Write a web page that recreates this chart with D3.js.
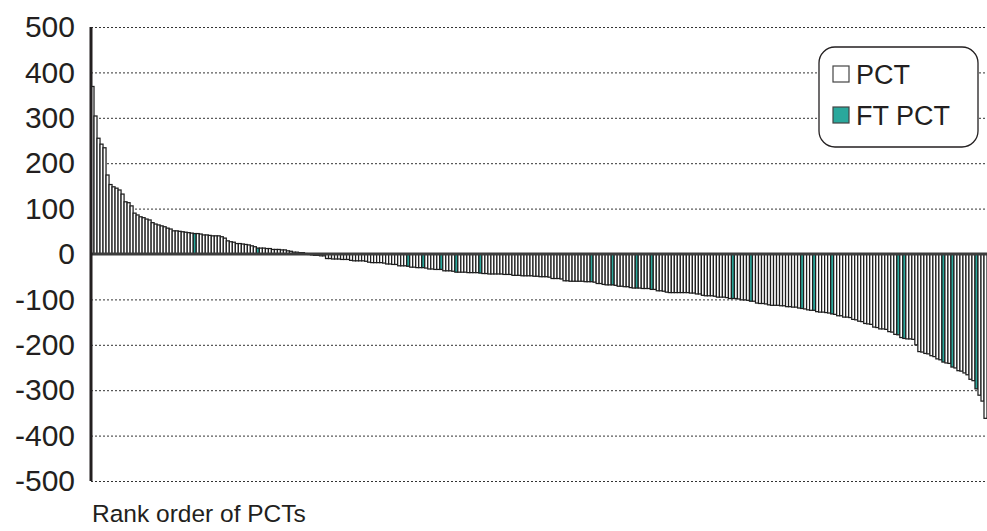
<!DOCTYPE html>
<html>
<head>
<meta charset="utf-8">
<script src="https://cdn.jsdelivr.net/npm/d3@7"></script>
<style>
  body { margin: 0; background: #fff; }
  svg { display: block; font-family: "Liberation Sans", Arial, sans-serif; }
</style>
</head>
<body>
<svg width="987" height="531"></svg>
<script>
// values, already in rank order
const pctValues = [
  369, 304, 255, 242, 234, 174, 153, 148, 145, 141,
  132, 115, 113, 106, 90, 86, 82, 80, 77, 75,
  69, 66, 64, 62, 60, 57, 55, 51, 51, 50,
  49, 48, 47, 46, 45, 45, 44, 42, 42, 41,
  40, 40, 40, 38, 35, 29, 27, 26, 23, 23,
  22, 21, 20, 18, 16, 13, 13, 13, 12, 12,
  10, 10, 10, 9, 9, 7, 6, 4, 4, 3,
  3, 1, -1, -2, -3, -3, -4, -4, -10, -10,
  -11, -11, -11, -12, -12, -12, -14, -15, -15, -15,
  -15, -16, -18, -19, -19, -19, -19, -20, -22, -22,
  -23, -23, -26, -26, -26, -27, -29, -29, -30, -30,
  -30, -31, -33, -33, -34, -34, -34, -37, -37, -37,
  -38, -40, -40, -40, -40, -41, -41, -41, -41, -42,
  -43, -43, -44, -44, -44, -44, -44, -45, -45, -45,
  -47, -47, -47, -48, -48, -48, -48, -49, -49, -50,
  -50, -50, -51, -54, -54, -54, -55, -59, -59, -60,
  -60, -60, -60, -60, -61, -61, -61, -62, -65, -65,
  -67, -68, -68, -68, -69, -71, -71, -72, -72, -74,
  -75, -75, -75, -76, -76, -76, -78, -78, -81, -81,
  -82, -84, -85, -85, -85, -85, -85, -85, -85, -86,
  -86, -88, -88, -91, -92, -92, -92, -93, -95, -95,
  -95, -96, -98, -98, -98, -99, -101, -101, -102, -104,
  -104, -108, -109, -109, -110, -112, -113, -113, -113, -114,
  -114, -116, -116, -117, -117, -119, -120, -121, -123, -124,
  -124, -127, -128, -128, -129, -130, -132, -133, -136, -136,
  -139, -139, -140, -144, -145, -148, -149, -153, -154, -155,
  -161, -162, -165, -165, -166, -171, -172, -177, -178, -184,
  -186, -187, -187, -188, -200, -215, -216, -219, -220, -224,
  -226, -231, -233, -238, -240, -241, -249, -251, -257, -258,
  -262, -266, -276, -279, -297, -311, -324, -362
]
// positions (0-based rank) of the FT PCT bars
const ftRanks = [34, 55, 105, 110, 116, 121, 129, 166, 173, 181, 186, 213, 219, 236, 240, 246, 268, 270, 283, 286, 294]
const yTicks = [500, 400, 300, 200, 100, 0, -100, -200, -300, -400, -500]
const legendItems = ['PCT', 'FT PCT']
const xLabel = 'Rank order of PCTs'

const svg = d3.select('svg'),
    margin = {top: 27, right: 0, bottom: 50, left: 91},
    width = +svg.attr('width') - margin.left - margin.right,
    height = +svg.attr('height') - margin.top - margin.bottom,
    teal = '#2aa89c',
    ink = '#231f20'

const ranks = pctValues.map((_, i) => i),
    ftSet = new Set(ftRanks)

const x = d3.scaleBand()
    .domain(ranks)
    .range([0, width])
    .padding(0)

const y = d3.scaleLinear()
    .domain([-500, 500])
    .range([height, 0])

const chart = svg.append('g')
    .attr('transform', 'translate(' + margin.left + ',' + margin.top + ')')

// dotted grid
chart.append('g')
  .selectAll('line')
  .data(yTicks.filter(d => d !== 0))
  .enter().append('line')
    .attr('x1', 0)
    .attr('x2', width)
    .attr('y1', d => y(d) + 0.5)
    .attr('y2', d => y(d) + 0.5)
    .attr('stroke', '#333')
    .attr('stroke-width', 1)
    .attr('stroke-dasharray', '2,2')

// bars
chart.append('g')
  .selectAll('rect')
  .data(pctValues)
  .enter().append('rect')
    .attr('x', (d, i) => x(i))
    .attr('y', d => y(Math.max(0, d)))
    .attr('width', x.bandwidth())
    .attr('height', d => Math.abs(y(d) - y(0)))
    .attr('fill', (d, i) => ftSet.has(i) ? teal : '#fff')
    .attr('stroke', '#1e1e1e')
    .attr('stroke-width', 1.25)

// zero line
chart.append('line')
    .attr('x1', 0)
    .attr('x2', width)
    .attr('y1', y(0))
    .attr('y2', y(0))
    .attr('stroke', '#3d3d3d')
    .attr('stroke-width', 3)

// y axis
const yAxis = chart.append('g')
    .call(d3.axisLeft(y).tickValues(yTicks).tickSize(0).tickPadding(16).tickFormat(d => String(d)))

yAxis.select('.domain').remove()
yAxis.selectAll('text')
    .attr('font-size', 30)
    .attr('font-family', '"Liberation Sans", Arial, sans-serif')
    .attr('fill', ink)

chart.append('line')
    .attr('x1', 0)
    .attr('x2', 0)
    .attr('y1', 0)
    .attr('y2', height)
    .attr('stroke', ink)
    .attr('stroke-width', 3)

svg.append('text')
    .attr('x', 92)
    .attr('y', 522)
    .attr('font-size', 24.5)
    .attr('fill', ink)
    .text(xLabel)

// legend
const legend = svg.append('g')
    .attr('transform', 'translate(819,47)')

legend.append('rect')
    .attr('width', 159)
    .attr('height', 100)
    .attr('rx', 16)
    .attr('fill', '#fff')
    .attr('stroke', ink)
    .attr('stroke-width', 1.3)

const item = legend.selectAll('.item')
  .data(legendItems)
  .enter().append('g')
    .attr('class', 'item')
    .attr('transform', (d, i) => 'translate(14,' + (19 + i * 41) + ')')

item.append('rect')
    .attr('width', 16)
    .attr('height', 16)
    .attr('fill', (d, i) => i ? teal : '#fff')
    .attr('stroke', '#444')
    .attr('stroke-width', 1.2)

item.append('text')
    .attr('x', 23)
    .attr('y', 18)
    .attr('font-size', 27)
    .attr('fill', ink)
    .text(d => d)
</script>
</body>
</html>
